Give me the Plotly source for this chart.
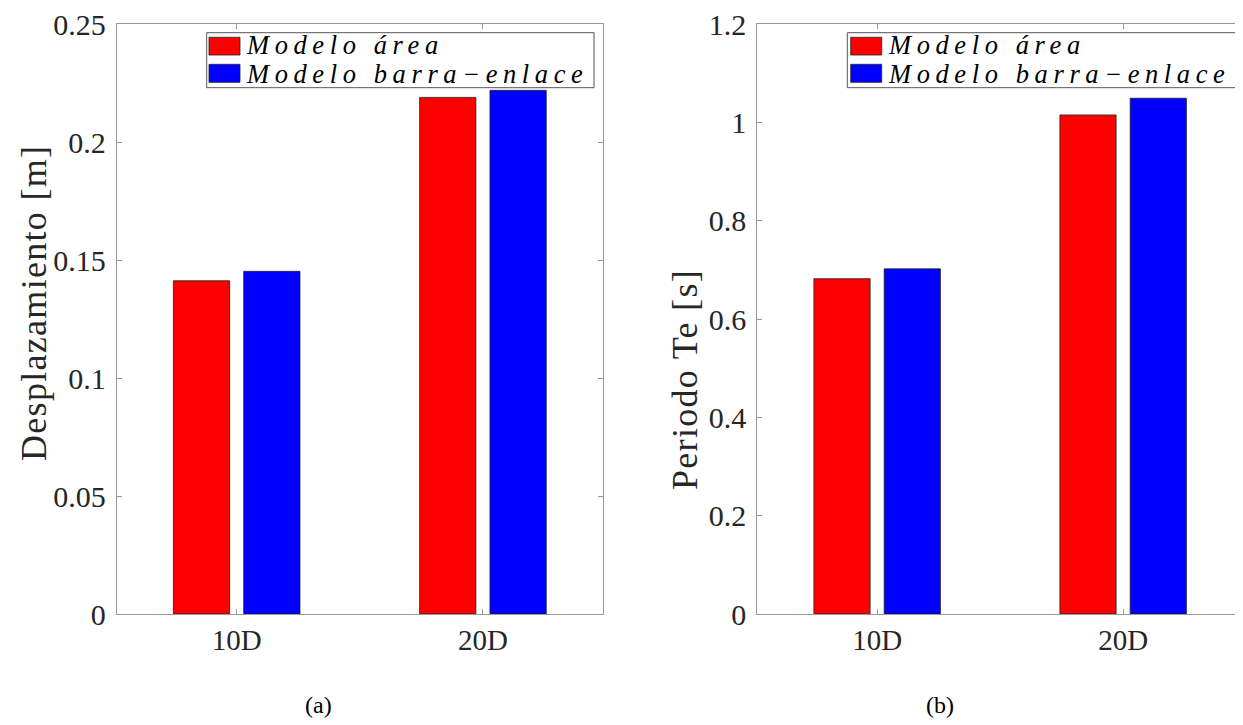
import plotly.graph_objects as go

# ---------------- data ----------------
categories = ["10D", "20D"]
series_names = ["Modelo área", "Modelo barra−enlace"]
desplazamiento_area = [0.1412, 0.2189]
desplazamiento_barra = [0.1452, 0.2219]
periodo_area = [0.682, 1.015]
periodo_barra = [0.702, 1.049]
y_titles = ["Desplazamiento [m]", "Periodo Te [s]"]
captions = ["(a)", "(b)"]

OFF = 8                      # page body margin
W, H = 1243 - OFF, 725 - OFF  # figure size so the page fits the window
RED, BLUE = "#FF0000", "#0000FF"
COLORS = [RED, BLUE]
AXC = "#999999"
SERIF = "Liberation Serif"

def px_x(p):
    return (p - OFF) / W

def px_y(p):
    return 1 - (p - OFF) / H

fig = go.Figure()

def add_pair(vals_a, vals_b, xa, ya):
    for name, vals, col, grp in ((series_names[0], vals_a, RED, "a"),
                                 (series_names[1], vals_b, BLUE, "b")):
        fig.add_trace(go.Bar(x=categories, y=vals, name=name,
                             marker=dict(color=col, line=dict(color="#222222", width=0.8)),
                             xaxis=xa, yaxis=ya, offsetgroup=grp, showlegend=False))

add_pair(desplazamiento_area, desplazamiento_barra, "x", "y")
add_pair(periodo_area, periodo_barra, "x2", "y2")

ydom = [px_y(614), px_y(24)]
xr = [-0.4872, 1.4872]

common_x = dict(type="category", range=xr, showline=True, linecolor=AXC, linewidth=1,
                mirror="ticks", ticks="inside", ticklen=5, tickcolor=AXC,
                showgrid=False, zeroline=False, automargin=False,
                tickfont=dict(family=SERIF, size=29, color="#262626"),
                ticklabelstandoff=0, ticklabeloverflow="allow")
common_y = dict(showline=True, linecolor=AXC, linewidth=1, mirror="ticks",
                ticks="inside", ticklen=5, tickcolor=AXC, showgrid=False,
                zeroline=False, domain=ydom, automargin=False,
                tickfont=dict(family=SERIF, size=30, color="#262626"),
                ticklabelstandoff=4, ticklabeloverflow="allow")

fig.update_layout(
    template="none",
    width=W, height=H,
    margin=dict(l=0, r=0, t=0, b=0, autoexpand=False),
    paper_bgcolor="white", plot_bgcolor="white",
    barmode="group", bargap=0.4286, bargroupgap=0.2,
    xaxis=dict(common_x, domain=[px_x(116.7), px_x(602.9)], anchor="y"),
    xaxis2=dict(common_x, domain=[px_x(757.3), 1.0], anchor="y2"),
    yaxis=dict(common_y, range=[0, 0.25], dtick=0.05, anchor="x"),
    yaxis2=dict(common_y, range=[0, 1.2], dtick=0.2, anchor="x2"),
    showlegend=False,
)

# y-axis titles
for txt, xc, yc in ((y_titles[0], 34, 303), (y_titles[1], 685, 380)):
    fig.add_annotation(text='<span style="letter-spacing:1.3px">' + txt + '</span>',
                       x=px_x(xc), y=px_y(yc), xref="paper", yref="paper",
                       xanchor="center", yanchor="middle", textangle=-90,
                       showarrow=False,
                       font=dict(family=SERIF, size=36, color="#262626"))

# legends (boxed, upper right of each panel)
legend_boxes = [(206.7, 32.7, 594.0, 87.7, 209.0), (847.3, 32.7, 1237.3, 87.7, 850.7)]
row_y = [(37.3, 55.0), (64.3, 82.3)]
text_shift = [-1.5, 0.5]
for (x0, y0, x1, y1, sx) in legend_boxes:
    fig.add_shape(type="rect", xref="paper", yref="paper",
                  x0=px_x(x0), x1=px_x(x1), y0=px_y(y1), y1=px_y(y0),
                  line=dict(color="#555555", width=1), fillcolor="white", layer="above")
    for i, (ya, yb) in enumerate(row_y):
        fig.add_shape(type="rect", xref="paper", yref="paper",
                      x0=px_x(sx), x1=px_x(sx + 31), y0=px_y(yb), y1=px_y(ya),
                      line=dict(color="#222222", width=0.8), fillcolor=COLORS[i],
                      layer="above")
        fig.add_annotation(text='<span style="letter-spacing:5.6px">' + series_names[i] + '</span>',
                           x=px_x(sx + 35), y=px_y((ya + yb) / 2 + text_shift[i]),
                           xref="paper", yref="paper", xanchor="left", yanchor="middle",
                           showarrow=False,
                           font=dict(family=SERIF, size=26.5, style="italic", color="black"))

for txt, xc in zip(captions, (318, 940)):
    fig.add_annotation(text=txt, x=px_x(xc), y=px_y(705), xref="paper", yref="paper",
                       xanchor="center", yanchor="middle", showarrow=False,
                       font=dict(family=SERIF, size=24, color="black"))

fig.write_html("out.html")
